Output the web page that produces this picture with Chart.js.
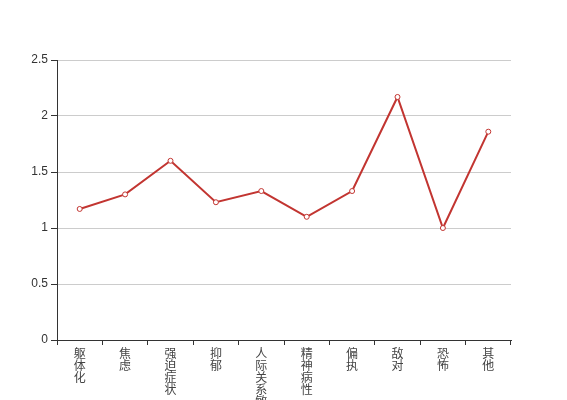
<!DOCTYPE html>
<html>
<head>
<meta charset="utf-8">
<script src="https://cdn.jsdelivr.net/npm/chart.js@4"></script>
<style>
html,body{margin:0;padding:0;background:#fff;}
#wrap{width:567px;height:400px;}
</style>
</head>
<body>
<div id="wrap"><canvas id="c" width="567" height="400"></canvas></div>
<script>
const categories = ['躯体化','焦虑','强迫症状','抑郁','人际关系敏感','精神病性','偏执','敌对','恐怖','其他'];
const values = [1.17, 1.30, 1.60, 1.23, 1.33, 1.10, 1.33, 2.17, 1.00, 1.86];
const yTicks = [0, 0.5, 1, 1.5, 2, 2.5];

const FONT = '"Noto Sans CJK SC", "Liberation Sans", sans-serif';
new Chart(document.getElementById('c'), {
  type: 'line',
  data: {
    labels: categories.map(s => Array.from(s)),
    datasets: [{
      data: values,
      borderColor: '#c23531',
      borderWidth: 2,
      backgroundColor: '#ffffff',
      pointBackgroundColor: '#ffffff',
      pointBorderColor: '#c23531',
      pointBorderWidth: 1,
      pointRadius: 2.5,
      tension: 0,
      fill: false
    }]
  },
  options: {
    responsive: false,
    animation: false,
    devicePixelRatio: 1,
    layout: { padding: { top: 60, right: 56, left: 0, bottom: 0 } },
    plugins: { legend: { display: false }, tooltip: { enabled: false } },
    scales: {
      x: {
        offset: true,
        grid: { display: true, offset: true, drawOnChartArea: false, tickLength: 5, color: '#333', tickColor: '#333' },
        border: { display: true, color: '#333', width: 1 },
        ticks: {
          autoSkip: false, maxRotation: 0, minRotation: 0, padding: 2,
          color: '#444', font: { family: FONT, size: 12, lineHeight: 1.0 }
        },
        afterFit: s => { s.height = 60; }
      },
      y: {
        min: 0, max: 2.5,
        afterBuildTicks: s => { s.ticks = yTicks.map(v => ({ value: v })); },
        grid: { color: '#cccccc', tickColor: '#333', tickLength: 6, lineWidth: 1 },
        border: { display: true, color: '#333', width: 1 },
        ticks: {
          color: '#333', padding: 3,
          font: { family: '"Liberation Sans", Arial, sans-serif', size: 12 },
          callback: v => String(v)
        },
        afterFit: s => { s.width = 57; }
      }
    }
  }
});
</script>
</body>
</html>
